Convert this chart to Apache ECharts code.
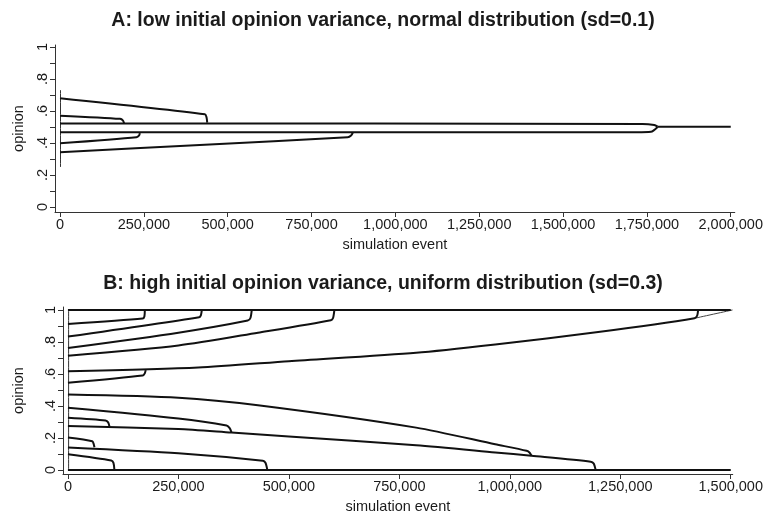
<!DOCTYPE html>
<html>
<head>
<meta charset="utf-8">
<script src="https://cdn.jsdelivr.net/npm/echarts@6/dist/echarts.min.js"></script>
<style>
html,body{margin:0;padding:0;background:#fff;}
#c{width:766px;height:515px;}
</style>
</head>
<body>
<div id="c"></div>
<script>
// ---- tick values ----
const xTicksA = [0, 250000, 500000, 750000, 1000000, 1250000, 1500000, 1750000, 2000000];
const xTicksB = [0, 250000, 500000, 750000, 1000000, 1250000, 1500000];
const yTicks = [0, 0.1, 0.2, 0.3, 0.4, 0.5, 0.6, 0.7, 0.8, 0.9, 1];
const yLabelVals = [0, 0.2, 0.4, 0.6, 0.8, 1];
const yLabelText = ['0', '.2', '.4', '.6', '.8', '1'];

// ---- Panel A trajectories: [simulation event, opinion] ----
const a0 = [[1500, 0.25], [1500, 0.73]];
const a1 = [[0, 0.679], [432000, 0.579], [437000, 0.560], [439000, 0.527]];
const a2 = [[0, 0.571], [179000, 0.551], [188000, 0.540], [191000, 0.523]];
const a3 = [[0, 0.522], [1737000, 0.519], [1772000, 0.512], [1782000, 0.502]];
const a4 = [[0, 0.467], [1719000, 0.467], [1762000, 0.470], [1782000, 0.500]];
const a5 = [[0, 0.398], [228000, 0.436], [236000, 0.447], [238000, 0.462]];
const a6 = [[0, 0.342], [417000, 0.388], [858000, 0.436], [868000, 0.447], [873000, 0.464]];
const a7 = [[1782000, 0.502], [2000000, 0.502]];

// ---- Panel B trajectories ----
const b0 = [[1500, 0.0], [1500, 1.0]];
const b1 = [[0, 1.0], [1500000, 1.0]];
const b2 = [[0, 0.913], [169000, 0.946], [173000, 0.960], [174000, 1.0]];
const b3 = [[0, 0.834], [297000, 0.955], [301000, 0.968], [303000, 1.0]];
const b4 = [[0, 0.762], [250000, 0.858], [407000, 0.934], [413000, 0.950], [416000, 1.0]];
const b5 = [[0, 0.714], [250000, 0.778], [430000, 0.858], [595000, 0.936], [600000, 0.950], [603000, 1.0]];
const b6 = [[0, 0.617], [295000, 0.640], [500000, 0.680], [788000, 0.733], [967000, 0.785], [1200000, 0.862], [1418000, 0.948], [1424000, 0.965], [1426000, 0.996]];
const b6tail = [[1418000, 0.948], [1504000, 1.0]];
const b7 = [[0, 0.545], [169000, 0.590], [174000, 0.605], [176000, 0.624]];
const b8 = [[0, 0.472], [250000, 0.452], [430000, 0.405], [788000, 0.265], [967000, 0.161], [1038000, 0.120], [1045000, 0.108], [1049000, 0.089]];
const b9 = [[0, 0.389], [250000, 0.322], [359000, 0.278], [366000, 0.262], [370000, 0.236]];
const b10 = [[0, 0.327], [85000, 0.310], [91000, 0.298], [94000, 0.272]];
const b11 = [[0, 0.275], [250000, 0.256], [370000, 0.234], [500000, 0.210], [788000, 0.155], [967000, 0.110], [1049000, 0.089], [1183000, 0.052], [1190000, 0.040], [1194000, 0.004]];
const b12 = [[0, 0.203], [55000, 0.180], [58000, 0.165], [60000, 0.142]];
const b13 = [[0, 0.141], [250000, 0.105], [441000, 0.058], [447000, 0.045], [451000, 0.004]];
const b14 = [[0, 0.099], [98000, 0.060], [103000, 0.045], [105000, 0.004]];
const b15 = [[0, 0.0], [1500000, 0.0]];

const seriesA = [a1, a2, a3, a4, a5, a6, a7];
const seriesB = [b1, b2, b3, b4, b5, b6, b7, b8, b9, b10, b11, b12, b13, b14, b15];

const FONT = 'Liberation Sans, Arial, sans-serif';
const INK = '#1b1b1b';
const LBL = 14.5;

function mkLine(data, gi, width, color) {
  return {
    type: 'line', data: data, xAxisIndex: gi, yAxisIndex: gi,
    showSymbol: false, symbol: 'none', smooth: 0.25, silent: true,
    lineStyle: { color: color || '#111', width: width, cap: 'butt', join: 'round' },
    z: 3
  };
}

function yFmt(v) {
  let best = 0, bd = 1e9;
  yLabelVals.forEach((t, i) => { const d = Math.abs(t - v); if (d < bd) { bd = d; best = i; } });
  return yLabelText[best];
}

function xAxisCfg(gi, min, max, ticks) {
  return {
    type: 'value', gridIndex: gi, min: min, max: max,
    name: 'simulation event', nameLocation: 'middle', nameGap: 25,
    nameTextStyle: { fontFamily: FONT, fontSize: LBL, color: INK },
    axisLine: { show: true, onZero: false, lineStyle: { color: '#333', width: 1 } },
    axisTick: { show: true, inside: false, length: 5, customValues: ticks, lineStyle: { color: '#333' } },
    axisLabel: { customValues: ticks, margin: 5, fontFamily: FONT, fontSize: LBL, color: INK,
      formatter: v => Math.round(v).toLocaleString('en-US') },
    splitLine: { show: false }
  };
}

function yAxisCfg(gi, min, max, gap) {
  return {
    type: 'value', gridIndex: gi, min: min, max: max,
    name: 'opinion', nameLocation: 'middle', nameGap: gap, nameRotate: 90,
    nameTextStyle: { fontFamily: FONT, fontSize: LBL, color: INK },
    axisLine: { show: true, onZero: false, lineStyle: { color: '#333', width: 1 } },
    axisTick: { show: true, inside: false, length: 5, customValues: yTicks, lineStyle: { color: '#333' } },
    axisLabel: { customValues: yLabelVals, rotate: 90, margin: 5, fontFamily: FONT, fontSize: LBL, color: INK,
      hideOverlap: false, formatter: yFmt },
    splitLine: { show: false }
  };
}

const series = [];
series.push(mkLine(a0, 0, 1, '#333'));
seriesA.forEach(d => series.push(mkLine(d, 0, 2)));
series.push(mkLine(b0, 1, 1, '#333'));
series.push(mkLine(b6tail, 1, 1, '#444'));
seriesB.forEach(d => series.push(mkLine(d, 1, 2)));

const chart = echarts.init(document.getElementById('c'), null, { renderer: 'canvas' });
chart.setOption({
  animation: false,
  backgroundColor: '#fff',
  title: [
    { text: 'A: low initial opinion variance, normal distribution (sd=0.1)', left: 'center', top: 6,
      textStyle: { fontFamily: FONT, fontSize: 19.5, fontWeight: 'bold', color: INK } },
    { text: 'B: high initial opinion variance, uniform distribution (sd=0.3)', left: 'center', top: 269,
      textStyle: { fontFamily: FONT, fontSize: 19.5, fontWeight: 'bold', color: INK } }
  ],
  grid: [
    { left: 55, top: 45, width: 680, height: 167, containLabel: false },
    { left: 63, top: 307, width: 677, height: 168, containLabel: false }
  ],
  xAxis: [
    xAxisCfg(0, -14900, 2012000, xTicksA),
    xAxisCfg(1, -11190, 1504500, xTicksB)
  ],
  yAxis: [
    yAxisCfg(0, -0.03125, 1.0125, 29),
    yAxisCfg(1, -0.0248, 1.0186, 37)
  ],
  series: series
});
</script>
</body>
</html>
